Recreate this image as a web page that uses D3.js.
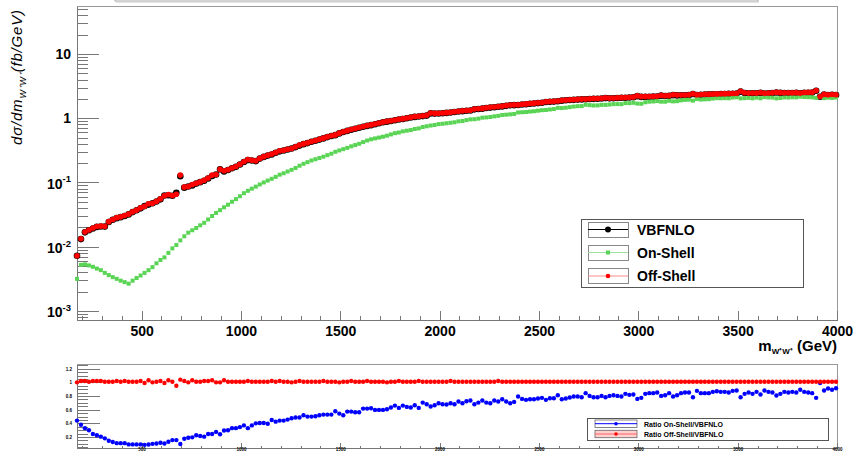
<!DOCTYPE html>
<html>
<head>
<meta charset="utf-8">
<script src="https://cdn.jsdelivr.net/npm/d3@7"></script>
<style>
  body { margin: 0; background: #fff; }
  svg { display: block; font-family: "Liberation Sans", Arial, Helvetica, sans-serif; }
  .axis path, .axis line { stroke: #777; shape-rendering: crispEdges; }
  .axis text { font-weight: bold; fill: #000; }
</style>
</head>
<body>
<div id="chart"></div>
<script>
// bin centres (GeV)
let mass = [
  175,195,215,235,255,275,295,315,335,355,
  375,395,415,435,455,475,495,515,535,555,
  575,595,615,635,655,675,695,715,735,755,
  775,795,815,835,855,875,895,915,935,955,
  975,995,1015,1035,1055,1075,1095,1115,1135,1155,
  1175,1195,1215,1235,1255,1275,1295,1315,1335,1355,
  1375,1395,1415,1435,1455,1475,1495,1515,1535,1555,
  1575,1595,1615,1635,1655,1675,1695,1715,1735,1755,
  1775,1795,1815,1835,1855,1875,1895,1915,1935,1955,
  1975,1995,2015,2035,2055,2075,2095,2115,2135,2155,
  2175,2195,2215,2235,2255,2275,2295,2315,2335,2355,
  2375,2395,2415,2435,2455,2475,2495,2515,2535,2555,
  2575,2595,2615,2635,2655,2675,2695,2715,2735,2755,
  2775,2795,2815,2835,2855,2875,2895,2915,2935,2955,
  2975,2995,3015,3035,3055,3075,3095,3115,3135,3155,
  3175,3195,3215,3235,3255,3275,3295,3315,3335,3355,
  3375,3395,3415,3435,3455,3475,3495,3515,3535,3555,
  3575,3595,3615,3635,3655,3675,3695,3715,3735,3755,
  3775,3795,3815,3835,3855,3875,3895,3915,3935,3955,
  3975,3995
];

// dsigma/dm (fb/GeV)
let vbfnlo = [
  0.0072,0.0131,0.0167,0.0180,0.0192,0.0203,0.0206,0.0205,0.0242,0.0262,
  0.0278,0.0288,0.0300,0.0318,0.0345,0.0368,0.0395,0.0428,0.0452,0.0475,
  0.0505,0.0545,0.0625,0.0632,0.0620,0.0690,0.1250,0.0830,0.0865,0.0900,
  0.0960,0.1010,0.1060,0.1150,0.1260,0.1330,0.1600,0.1480,0.1560,0.1660,
  0.1750,0.1900,0.2080,0.2230,0.2200,0.2150,0.2350,0.2500,0.2620,0.2720,
  0.2900,0.3050,0.3150,0.3250,0.3380,0.3550,0.3750,0.3950,0.4100,0.4300,
  0.445,0.465,0.485,0.508,0.530,0.545,0.580,0.610,0.635,0.660,
  0.685,0.710,0.735,0.760,0.780,0.805,0.835,0.865,0.885,0.905,
  0.930,0.955,0.975,1.000,1.025,1.050,1.065,1.080,1.100,1.190,
  1.180,1.185,1.195,1.210,1.230,1.250,1.270,1.290,1.305,1.320,
  1.375,1.395,1.410,1.440,1.465,1.480,1.510,1.530,1.560,1.590,
  1.600,1.610,1.635,1.655,1.680,1.700,1.720,1.745,1.790,1.800,
  1.815,1.840,1.880,1.905,1.920,1.935,1.950,1.965,1.975,1.990,
  2.005,2.015,2.025,2.060,2.040,2.050,2.065,2.080,2.085,2.100,
  2.120,2.210,2.150,2.150,2.160,2.170,2.180,2.250,2.220,2.230,
  2.290,2.270,2.270,2.280,2.290,2.380,2.300,2.320,2.340,2.350,
  2.360,2.370,2.380,2.390,2.400,2.410,2.420,2.600,2.470,2.440,
  2.450,2.440,2.480,2.430,2.450,2.460,2.520,2.480,2.460,2.470,
  2.470,2.480,2.440,2.490,2.500,2.510,2.680,2.160,2.330,2.300,
  2.320,2.300
];

let onShell = [
  0.00315,0.0052,0.0053,0.0051,0.00485,0.00455,0.0043,0.0039,0.0036,0.00335,
  0.00315,0.00295,0.0028,0.00265,0.00295,0.00325,0.00355,0.0039,0.0043,0.0048,
  0.0055,0.0062,0.0068,0.0080,0.0094,0.0106,0.0125,0.0145,0.0165,0.0180,
  0.0195,0.0215,0.0235,0.0265,0.0300,0.0335,0.0370,0.0410,0.0450,0.0500,
  0.0550,0.0610,0.0680,0.0740,0.0800,0.0860,0.0930,0.1000,0.1070,0.1140,
  0.1220,0.1320,0.1390,0.1480,0.1570,0.1680,0.1820,0.1950,0.2070,0.2200,
  0.230,0.240,0.252,0.266,0.280,0.300,0.315,0.330,0.345,0.365,
  0.382,0.400,0.425,0.450,0.470,0.485,0.500,0.515,0.535,0.560,
  0.585,0.600,0.625,0.640,0.655,0.680,0.695,0.730,0.750,0.770,
  0.785,0.810,0.820,0.835,0.850,0.865,0.895,0.905,0.935,0.960,
  0.965,0.985,1.020,1.030,1.045,1.070,1.090,1.125,1.135,1.150,
  1.165,1.230,1.240,1.250,1.270,1.285,1.310,1.335,1.345,1.370,
  1.390,1.450,1.440,1.460,1.490,1.520,1.540,1.545,1.620,1.600,
  1.580,1.585,1.615,1.615,1.635,1.660,1.660,1.655,1.720,1.715,
  1.740,1.690,1.680,1.770,1.810,1.825,1.850,1.810,1.810,1.870,
  1.830,1.845,1.900,1.935,1.945,1.880,1.990,1.955,1.970,1.980,
  2.025,2.055,2.045,2.055,2.045,2.100,2.120,2.040,2.055,2.075,
  2.040,2.095,2.045,2.130,2.105,2.095,2.040,2.065,2.110,2.100,
  2.120,2.110,2.165,2.140,2.130,2.115,2.075,2.135,2.055,2.090,
  2.070,2.100
];

let offShell = [
  0.0072,0.0133,0.0169,0.0182,0.0195,0.0206,0.0209,0.0207,0.0245,0.0265,
  0.0283,0.0291,0.0305,0.0321,0.0348,0.0371,0.0402,0.0424,0.0465,0.0475,
  0.0510,0.0555,0.0620,0.0650,0.0626,0.0655,0.1300,0.0845,0.0865,0.0925,
  0.0970,0.1020,0.1080,0.1170,0.1300,0.1330,0.1600,0.1520,0.1575,0.1675,
  0.1770,0.1920,0.2100,0.2270,0.2220,0.2170,0.2370,0.2520,0.2650,0.2770,
  0.2930,0.3110,0.3180,0.3280,0.3380,0.3590,0.3820,0.3990,0.4140,0.4340,
  0.449,0.470,0.490,0.513,0.535,0.550,0.586,0.616,0.641,0.667,
  0.692,0.717,0.742,0.768,0.788,0.813,0.843,0.874,0.894,0.914,
  0.939,0.965,0.985,1.010,1.035,1.060,1.076,1.091,1.111,1.202,
  1.192,1.197,1.207,1.222,1.242,1.263,1.283,1.303,1.318,1.333,
  1.389,1.409,1.424,1.454,1.480,1.495,1.525,1.545,1.576,1.606,
  1.616,1.626,1.651,1.672,1.697,1.717,1.737,1.762,1.808,1.818,
  1.833,1.858,1.899,1.924,1.939,1.954,1.970,1.985,1.995,2.010,
  2.025,2.035,2.045,2.081,2.060,2.071,2.086,2.101,2.106,2.121,
  2.141,2.232,2.172,2.172,2.182,2.192,2.202,2.273,2.242,2.252,
  2.313,2.293,2.293,2.303,2.313,2.404,2.323,2.343,2.363,2.374,
  2.384,2.394,2.404,2.414,2.424,2.434,2.444,2.626,2.495,2.464,
  2.475,2.464,2.505,2.454,2.475,2.485,2.545,2.505,2.485,2.495,
  2.495,2.505,2.464,2.515,2.525,2.535,2.707,2.182,2.353,2.323,
  2.343,2.323
];

// ratio pad
let ratioOn = [
  0.44,0.38,0.33,0.30,0.244,0.225,0.205,0.18,0.146,0.126,
  0.11,0.11,0.11,0.092,0.092,0.092,0.092,0.085,0.09,0.10,
  0.105,0.115,0.105,0.13,0.155,0.155,0.097,0.175,0.19,0.195,
  0.225,0.215,0.205,0.245,0.245,0.275,0.24,0.295,0.30,0.33,
  0.33,0.345,0.37,0.33,0.37,0.40,0.405,0.405,0.395,0.45,
  0.425,0.44,0.44,0.455,0.475,0.485,0.485,0.518,0.499,0.499,
  0.503,0.518,0.528,0.528,0.528,0.577,0.543,0.518,0.572,0.572,
  0.562,0.562,0.616,0.616,0.621,0.597,0.597,0.597,0.606,0.631,
  0.660,0.626,0.660,0.641,0.631,0.665,0.626,0.704,0.680,0.646,
  0.665,0.695,0.680,0.675,0.695,0.680,0.719,0.695,0.724,0.734,
  0.680,0.704,0.734,0.704,0.695,0.734,0.719,0.753,0.719,0.695,
  0.714,0.793,0.758,0.744,0.753,0.753,0.763,0.773,0.744,0.768,
  0.768,0.812,0.753,0.763,0.778,0.793,0.793,0.783,0.842,0.802,
  0.783,0.783,0.802,0.783,0.802,0.812,0.802,0.793,0.832,0.817,
  0.822,0.758,0.773,0.832,0.842,0.842,0.852,0.802,0.812,0.842,
  0.793,0.812,0.842,0.852,0.852,0.783,0.876,0.842,0.842,0.842,
  0.861,0.871,0.861,0.861,0.852,0.876,0.881,0.783,0.832,0.852,
  0.832,0.861,0.822,0.881,0.861,0.852,0.807,0.832,0.861,0.852,
  0.861,0.852,0.891,0.861,0.852,0.842,0.773,0.989,0.881,0.910,
  0.891,0.915
];

let ratioOff = [
  1.00,1.02,1.02,1.01,1.02,1.02,1.02,1.01,1.01,1.01,
  1.02,1.01,1.02,1.01,1.01,1.01,1.02,0.99,1.03,1.00,
  1.01,1.02,0.99,1.03,1.01,0.95,1.04,1.02,1.00,1.03,
  1.01,1.01,1.02,1.02,1.03,1.00,1.00,1.03,1.01,1.01,
  1.01,1.01,1.01,1.02,1.01,1.01,1.01,1.01,1.01,1.02,
  1.01,1.02,1.01,1.01,1.00,1.01,1.02,1.01,1.01,1.01,
  1.01,1.01,1.02,1.01,1.01,1.01,1.00,1.01,1.01,1.02,
  1.01,1.01,1.01,1.02,1.01,1.01,1.01,1.01,1.00,1.01,
  1.01,1.02,1.01,1.01,1.01,1.01,1.02,1.01,1.01,1.01,
  1.01,1.01,1.01,1.01,1.02,1.01,1.01,1.01,1.01,1.01,
  1.01,1.01,1.01,1.01,1.01,1.01,1.02,1.01,1.01,1.01,
  1.01,1.01,1.01,1.01,1.01,1.01,1.01,1.01,1.01,1.01,
  1.01,1.01,1.01,1.01,1.01,1.01,1.01,1.01,1.01,1.01,
  1.01,1.01,1.01,1.01,1.01,1.01,1.01,1.01,1.01,1.01,
  1.01,1.01,1.01,1.01,1.01,1.01,1.01,1.01,1.01,1.01,
  1.01,1.01,1.01,1.01,1.01,1.01,1.01,1.01,1.01,1.01,
  1.01,1.01,1.01,1.01,1.01,1.01,1.01,1.01,1.01,1.01,
  1.01,1.01,1.01,1.01,1.01,1.01,1.01,1.01,1.01,1.01,
  1.01,1.01,1.01,1.01,1.01,1.01,1.01,1.01,1.01,1.01,
  1.01,1.01
];

let xMajorTicks = [500, 1000, 1500, 2000, 2500, 3000, 3500, 4000];
let yLogTicks = [
  {v: 10, base: '10', exp: ''},
  {v: 1, base: '1', exp: ''},
  {v: 0.1, base: '10', exp: '-1'},
  {v: 0.01, base: '10', exp: '-2'},
  {v: 0.001, base: '10', exp: '-3'}
];
let ratioTicks = [0.2, 0.4, 0.6, 0.8, 1, 1.2];
let legendMain = ['VBFNLO', 'On-Shell', 'Off-Shell'];
let legendRatio = ['Ratio On-Shell/VBFNLO', 'Ratio Off-Shell/VBFNLO'];

let rows = mass.map(function (m, i) {
  return {m: m, vbf: vbfnlo[i], on: onShell[i], off: offShell[i], rOn: ratioOn[i], rOff: ratioOff[i]};
});

let width = 855, height = 451;
let green = '#59d454';

let svg = d3.select('#chart')
  .append('svg')
    .attr('width', width)
    .attr('height', height)
    .style('background', '#fff');

// ---------- top pad ----------
let xScale = d3.scaleLinear().domain([175, 4000]).range([77, 837]);
let yScale = d3.scaleLog().domain([7.2e-4, 56]).range([320, 6]);

// empty title box peeking at the top
svg.append('rect')
  .attr('x', 115).attr('y', -12).attr('width', 643).attr('height', 13)
  .attr('fill', '#fff').attr('stroke', '#aaa');
svg.append('line')
  .attr('x1', 116).attr('x2', 759).attr('y1', 2).attr('y2', 2)
  .attr('stroke', '#ccc');

svg.append('rect')
  .attr('x', 77).attr('y', 6).attr('width', 760).attr('height', 314)
  .attr('fill', 'none').attr('stroke', '#999').attr('shape-rendering', 'crispEdges');

let xMinor = d3.range(200, 4001, 100).filter(function (d) { return d % 500 !== 0; });

svg.append('g')
  .attr('class', 'axis')
  .attr('transform', 'translate(0,320)')
  .call(d3.axisBottom(xScale).tickValues(xMinor).tickSizeInner(-4.5).tickSizeOuter(0).tickFormat(''));

svg.append('g')
  .attr('class', 'axis')
  .attr('transform', 'translate(0,320)')
  .call(d3.axisBottom(xScale).tickValues(xMajorTicks).tickSizeInner(-9).tickSizeOuter(0).tickPadding(6).tickFormat(d3.format('d')))
  .selectAll('text').style('font-size', '14px');

let yMinor = [];
[1e-4, 1e-3, 1e-2, 1e-1, 1, 10].forEach(function (dec) {
  for (let k = 2; k <= 9; k++) {
    let v = dec * k;
    if (v > 7.2e-4 && v < 56) yMinor.push(v);
  }
});

svg.append('g')
  .attr('class', 'axis')
  .attr('transform', 'translate(77,0)')
  .call(d3.axisLeft(yScale).tickValues(yMinor).tickSizeInner(-11).tickSizeOuter(0).tickFormat(''));

svg.append('g')
  .attr('class', 'axis')
  .attr('transform', 'translate(77,0)')
  .call(d3.axisLeft(yScale).tickValues(yLogTicks.map(function (d) { return d.v; })).tickSizeInner(-22).tickSizeOuter(0).tickFormat(''));

let yLab = svg.append('g');
yLogTicks.forEach(function (t) {
  let y0 = yScale(t.v);
  let txt = yLab.append('text')
    .attr('x', 71)
    .attr('y', t.exp ? y0 + 6.5 : y0 + 5)
    .attr('text-anchor', 'end')
    .style('font-weight', 'bold')
    .style('font-size', '14px');
  txt.append('tspan').text(t.base);
  if (t.exp) {
    txt.append('tspan').attr('dy', -6.5).style('font-size', '9.5px').text(t.exp);
  }
});

// y title
let yTitle = svg.append('text')
  .attr('transform', 'translate(22,10) rotate(-90)')
  .attr('text-anchor', 'end')
  .attr('textLength', 135)
  .attr('lengthAdjust', 'spacing')
  .style('font-style', 'italic')
  .style('font-size', '15px');
yTitle.append('tspan').text('dσ/dm');
yTitle.append('tspan').attr('dy', 4).style('font-size', '9px').text('W⁺W⁺');
yTitle.append('tspan').attr('dy', -4).text('(fb/GeV)');

// x title
let xTitle = svg.append('text')
  .attr('x', 837).attr('y', 351)
  .attr('text-anchor', 'end')
  .style('font-weight', 'bold')
  .style('font-size', '15px');
xTitle.append('tspan').text('m');
xTitle.append('tspan').attr('dy', 3).style('font-size', '8px').text('W⁺W⁺');
xTitle.append('tspan').attr('dy', -3).text(' (GeV)');

// markers
svg.append('g').selectAll('circle')
  .data(rows).enter().append('circle')
    .attr('cx', function (d) { return xScale(d.m); })
    .attr('cy', function (d) { return yScale(d.vbf); })
    .attr('r', 3.3)
    .attr('fill', 'black');

svg.append('g').selectAll('rect')
  .data(rows).enter().append('rect')
    .attr('x', function (d) { return xScale(d.m) - 2; })
    .attr('y', function (d) { return yScale(d.on) - 2; })
    .attr('width', 4).attr('height', 4)
    .attr('fill', green);

svg.append('g').selectAll('circle')
  .data(rows).enter().append('circle')
    .attr('cx', function (d) { return xScale(d.m); })
    .attr('cy', function (d) { return yScale(d.off); })
    .attr('r', 2.8)
    .attr('fill', '#ff0000');

// main legend
let leg = svg.append('g');
leg.append('rect')
  .attr('x', 581).attr('y', 219).attr('width', 222).attr('height', 68)
  .attr('fill', '#fff').attr('stroke', '#555').attr('shape-rendering', 'crispEdges');
let legY = [229.5, 252.5, 276];
let legLine = ['#000', '#9de09a', '#ff8a8a'];
legendMain.forEach(function (name, i) {
  let cy = legY[i];
  leg.append('rect')
    .attr('x', 588).attr('y', cy - 7.5).attr('width', 40).attr('height', 15)
    .attr('fill', 'none').attr('stroke', '#888').attr('shape-rendering', 'crispEdges');
  leg.append('line')
    .attr('x1', 588).attr('x2', 628).attr('y1', cy).attr('y2', cy)
    .attr('stroke', legLine[i]);
  if (i === 1) {
    leg.append('rect').attr('x', 606).attr('y', cy - 2).attr('width', 4).attr('height', 4).attr('fill', green);
  } else {
    leg.append('circle').attr('cx', 608).attr('cy', cy).attr('r', i === 0 ? 3 : 2.3)
      .attr('fill', i === 0 ? '#000' : '#ff0000');
  }
  leg.append('text')
    .attr('x', 637).attr('y', cy + 5)
    .style('font-weight', 'bold').style('font-size', '14px')
    .text(name);
});

// ---------- ratio pad ----------
let xRatio = d3.scaleLinear().domain([175, 4000]).range([77, 837]);
let yRatio = d3.scaleLinear().domain([0.039, 1.269]).range([448, 364]);

svg.append('rect')
  .attr('x', 77).attr('y', 364).attr('width', 760).attr('height', 84)
  .attr('fill', 'none').attr('stroke', '#999').attr('shape-rendering', 'crispEdges');

svg.append('g')
  .attr('class', 'axis')
  .attr('transform', 'translate(0,448)')
  .call(d3.axisBottom(xRatio).tickValues(xMinor).tickSizeInner(-2.5).tickSizeOuter(0).tickFormat(''));

svg.append('g')
  .attr('class', 'axis')
  .attr('transform', 'translate(0,448)')
  .call(d3.axisBottom(xRatio).tickValues(xMajorTicks).tickSizeInner(-5).tickSizeOuter(0).tickPadding(0).tickFormat(d3.format('d')))
  .selectAll('text').style('font-size', '4.5px');

let rMinor = d3.range(0.05, 1.26, 0.05).filter(function (d) { return Math.abs(d * 5 - Math.round(d * 5)) > 1e-6; });

svg.append('g')
  .attr('class', 'axis')
  .attr('transform', 'translate(77,0)')
  .call(d3.axisLeft(yRatio).tickValues(rMinor).tickSizeInner(-11).tickSizeOuter(0).tickFormat(''));

svg.append('g')
  .attr('class', 'axis')
  .attr('transform', 'translate(77,0)')
  .call(d3.axisLeft(yRatio).tickValues(ratioTicks).tickSizeInner(-23).tickSizeOuter(0).tickPadding(5).tickFormat(d3.format('~g')))
  .selectAll('text').style('font-size', '4.5px');

svg.append('g').selectAll('circle')
  .data(rows).enter().append('circle')
    .attr('cx', function (d) { return xRatio(d.m); })
    .attr('cy', function (d) { return yRatio(d.rOn); })
    .attr('r', 2.2)
    .attr('fill', '#0000ff');

svg.append('g').selectAll('circle')
  .data(rows).enter().append('circle')
    .attr('cx', function (d) { return xRatio(d.m); })
    .attr('cy', function (d) { return yRatio(d.rOff); })
    .attr('r', 2.2)
    .attr('fill', '#ff0000');

// ratio legend
let leg2 = svg.append('g');
leg2.append('rect')
  .attr('x', 587).attr('y', 418.5).attr('width', 241).attr('height', 21.5)
  .attr('fill', '#fff').attr('stroke', '#555').attr('shape-rendering', 'crispEdges');
let leg2Y = [423.7, 434];
legendRatio.forEach(function (name, i) {
  let cy = leg2Y[i];
  leg2.append('rect')
    .attr('x', 595).attr('y', cy - 3.7).attr('width', 42).attr('height', 7.4)
    .attr('fill', i === 1 ? '#ffd0d0' : '#fff').attr('stroke', '#666').attr('stroke-width', 0.8);
  leg2.append('line')
    .attr('x1', 595).attr('x2', 637).attr('y1', cy).attr('y2', cy)
    .attr('stroke', i === 0 ? '#0000ff' : '#ff6060');
  leg2.append('circle').attr('cx', 616).attr('cy', cy).attr('r', 1.8)
    .attr('fill', i === 0 ? '#0000ff' : '#ff0000');
  leg2.append('text')
    .attr('x', 644).attr('y', cy + 2.8)
    .style('font-weight', 'bold').style('font-size', '7px')
    .text(name);
});
</script>
</body>
</html>
